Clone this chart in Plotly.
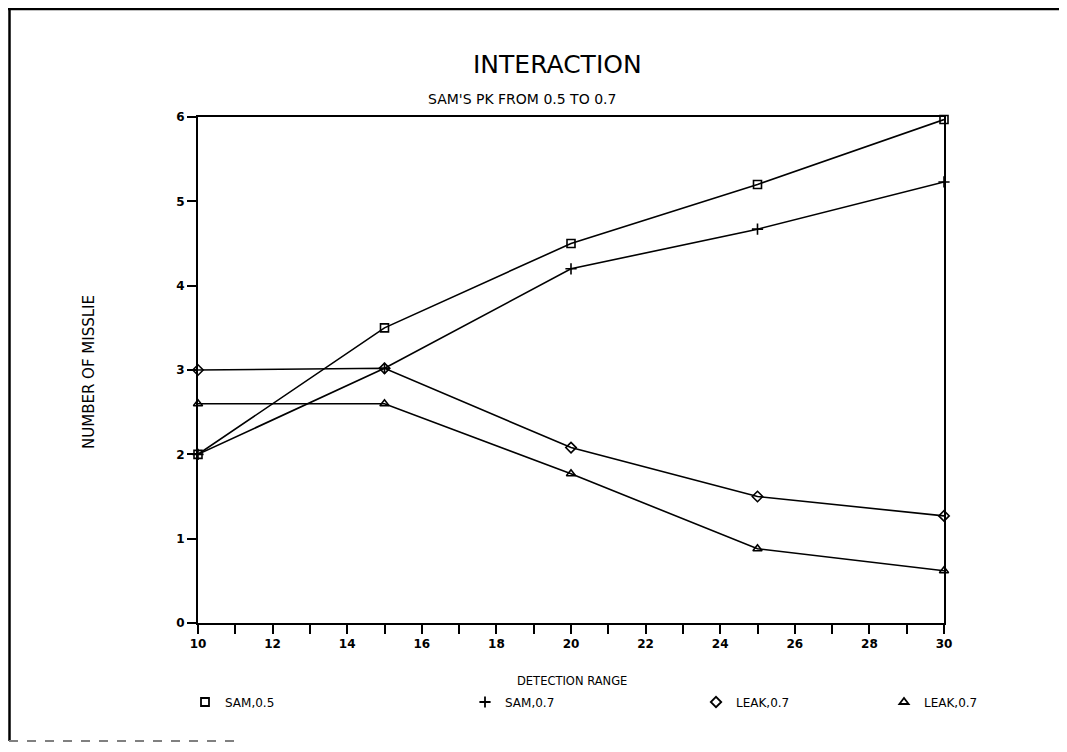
import plotly.graph_objects as go

detection_range = [10, 15, 20, 25, 30]
sam_05 = [2.0, 3.5, 4.5, 5.2, 5.97]
sam_07 = [2.0, 3.02, 4.2, 4.67, 5.23]
leak_07_a = [3.0, 3.02, 2.08, 1.5, 1.27]
leak_07_b = [2.6, 2.6, 1.77, 0.88, 0.62]

series_names = ["SAM,0.5", "SAM,0.7", "LEAK,0.7", "LEAK,0.7"]
series_values = [sam_05, sam_07, leak_07_a, leak_07_b]
symbols = ["square-open", "cross-thin-open", "diamond-open", "triangle-up-open"]

x_ticks = [10, 12, 14, 16, 18, 20, 22, 24, 26, 28, 30]
y_ticks = [0, 1, 2, 3, 4, 5, 6]

O = 8  # page body margin
W, H = 1051, 736
L, T = 198 - O, 117 - O
R = W - (944 - O)
B = H - (623 - O)
pw, ph = W - L - R, H - T - B

def px(x):
    return (x - O - L) / pw

def py(y):
    return (H - B - (y - O)) / ph

fig = go.Figure()
legend_x = [185, 465, 696, 884]
for i, (name, vals, sym) in enumerate(zip(series_names, series_values, symbols)):
    fig.add_trace(go.Scatter(
        x=detection_range, y=vals, mode="lines+markers",
        line=dict(color="black", width=1.6),
        marker=dict(symbol=sym, size=8, color="black",
                    line=dict(color="black", width=1.6)),
        showlegend=False, cliponaxis=False,
    ))
    lg = "legend" if i == 0 else f"legend{i+1}"
    fig.add_trace(go.Scatter(
        x=[None], y=[None], mode="markers", name=name,
        marker=dict(symbol=sym, size=8, color="black",
                    line=dict(color="black", width=1.8)),
        legend=lg, showlegend=True,
    ))

font_main = "DejaVu Sans"
legend_common = dict(orientation="h", yanchor="middle", xanchor="left",
                     bgcolor="rgba(0,0,0,0)", itemwidth=30,
                     font=dict(family=font_main, size=12, color="black"))
layout_legends = {}
for i, lx in enumerate(legend_x):
    key = "legend" if i == 0 else f"legend{i+1}"
    layout_legends[key] = dict(legend_common, x=px(lx), y=py(702))

fig.update_layout(
    width=W, height=H,
    margin=dict(l=L, r=R, t=T, b=B),
    paper_bgcolor="white", plot_bgcolor="white",
    font=dict(family=font_main, color="black"),
    **layout_legends,
)

fig.update_xaxes(
    range=[10, 30], tickvals=x_ticks, ticks="outside", ticklen=9, tickwidth=1.5,
    tickcolor="black", showline=True, linecolor="black", linewidth=1.8,
    mirror=True, showgrid=False, zeroline=False,
    tickfont=dict(family=font_main, size=12, color="black", weight="bold"),
    minor=dict(dtick=1, tick0=10, ticks="outside", ticklen=9, tickwidth=1.5, tickcolor="black", showgrid=False),
)
fig.update_yaxes(
    range=[0, 6], tickvals=y_ticks, ticks="outside", ticklen=9, tickwidth=1.5,
    tickcolor="black", showline=True, linecolor="black", linewidth=1.8,
    mirror=True, showgrid=False, zeroline=False,
    tickfont=dict(family=font_main, size=12, color="black", weight="bold"),
)

annos = [
    dict(text="INTERACTION", x=px(557), y=py(65), font=dict(size=25, family="DejaVu Sans"), textangle=0),
    dict(text="SAM'S PK FROM 0.5 TO 0.7", x=px(522), y=py(99), font=dict(size=14), textangle=0),
    dict(text="DETECTION RANGE", x=px(572), y=py(681), font=dict(size=11.5), textangle=0),
    dict(text="NUMBER OF MISSLIE", x=px(89), y=py(372), font=dict(size=15), textangle=-90),
]
for a in annos:
    fig.add_annotation(xref="paper", yref="paper", showarrow=False,
                       xanchor="center", yanchor="middle", **a)

# outer frame
fig.add_shape(type="line", xref="paper", yref="paper",
              x0=px(8), x1=px(1066), y0=py(9), y1=py(9),
              line=dict(color="black", width=2.5))
fig.add_shape(type="line", xref="paper", yref="paper",
              x0=px(9.5), x1=px(9.5), y0=py(8), y1=py(741),
              line=dict(color="black", width=2.5))
fig.add_shape(type="line", xref="paper", yref="paper",
              x0=px(9), x1=px(240), y0=py(741), y1=py(741),
              line=dict(color="gray", width=2, dash="dash"))

fig.write_html("out.html")
